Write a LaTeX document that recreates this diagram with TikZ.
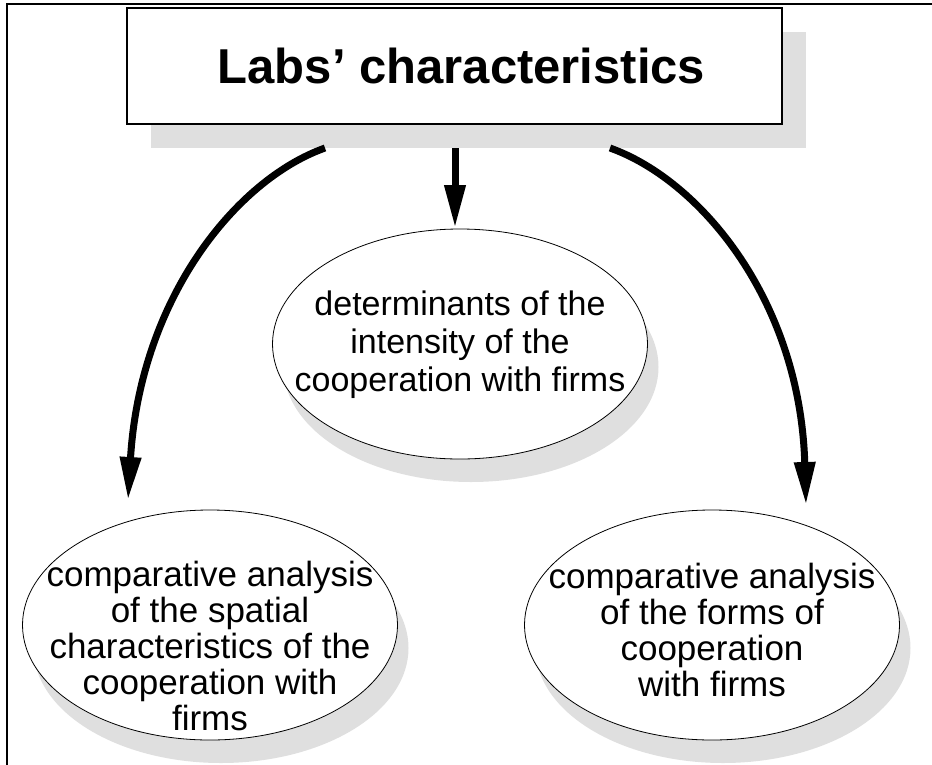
\documentclass[tikz,border=0pt]{standalone}
\usepackage{fontspec}
\setmainfont{Liberation Sans}
\usetikzlibrary{shapes.geometric,arrows.meta,shadows}
\definecolor{shadowgray}{HTML}{DFDFDF}
\begin{document}
\begin{tikzpicture}[x=1pt,y=-1pt,
  ellnode/.style={draw=black, line width=0.8pt, fill=white, ellipse,
    minimum width=375pt, minimum height=230pt, inner sep=0pt,
    drop shadow={shadow xshift=11pt, shadow yshift=-23pt, fill=shadowgray, opacity=1}},
  elltext/.style={align=center, font=\fontsize{35}{36}\selectfont, inner sep=0pt},
  midtext/.style={align=center, font=\fontsize{34}{38}\selectfont, inner sep=0pt},
  bigarrow/.style={line width=7pt, -{Triangle[length=43pt,width=20pt]}},
]
\useasboundingbox (0,0) rectangle (932,764);
% frame
\draw[line width=1.5pt] (940,4) -- (7,4) -- (7,770);
% title
\node[draw, line width=1.2pt, fill=white, minimum width=655pt, minimum height=116pt,
  inner sep=0pt,
  drop shadow={shadow xshift=24pt, shadow yshift=-24pt, fill=shadowgray, opacity=1}]
  (title) at (454.5,66) {};
\node[inner sep=0pt, font=\bfseries\fontsize{49}{59}\selectfont] (titletext) at (461.5,66)
  {Labs’ characteristics};
% ellipses
\node[ellnode] (C) at (460,344) {};
\node[midtext] (Ct) at (460,345) {determinants of the\\intensity of the\\cooperation with firms};
\node[ellnode] (L) at (210,625) {};
\node[elltext] (Lt) at (210,646) {comparative analysis\\of the spatial\\characteristics of the\\cooperation with\\firms};
\node[ellnode] (R) at (712,625) {};
\node[elltext] (Rt) at (712,630) {comparative analysis\\of the forms of\\cooperation\\with firms};
% arrows
\coordinate (cs) at (455,148);
\coordinate (ce) at (455,228);
\coordinate (ls) at (325,148);
\coordinate (le) at (128,500);
\coordinate (rs) at (610,148);
\coordinate (re) at (806,505);
\draw[bigarrow] (cs) -- (ce);
\draw[bigarrow] (ls) .. controls (235,180) and (140,300) .. (le);
\draw[bigarrow] (rs) .. controls (700,180) and (800,300) .. (re);
\end{tikzpicture}
\end{document}
